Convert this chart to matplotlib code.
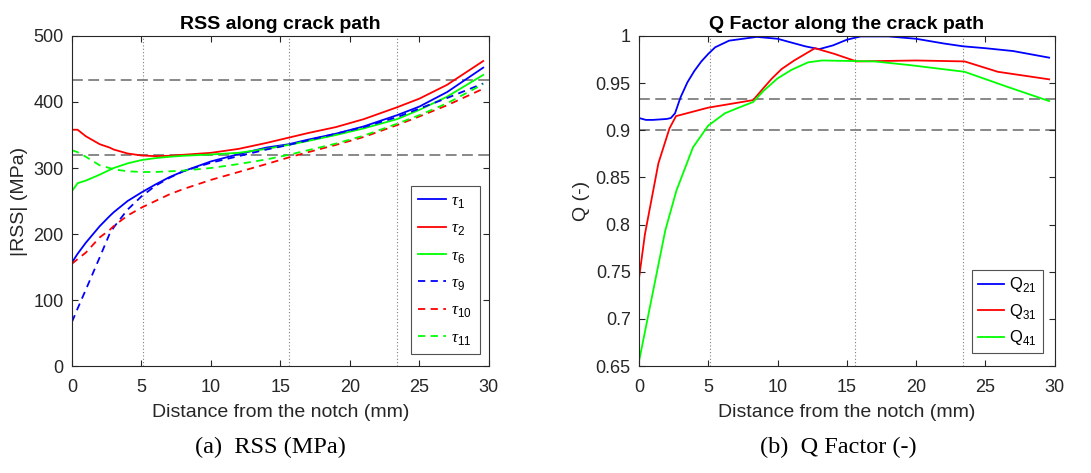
import matplotlib.pyplot as plt
from matplotlib.ticker import FuncFormatter

plt.rcParams['font.family'] = ['Liberation Sans', 'DejaVu Sans']
plt.rcParams['mathtext.fontset'] = 'custom'
plt.rcParams['mathtext.rm'] = 'Liberation Sans'

# RSS along crack path (MPa)
x_rss = [0, 0.4, 1, 2, 2.7, 3, 4, 5, 6, 7, 8, 10, 12, 14, 15.6, 17, 19, 21, 23.4, 25, 27, 29.6]
tau1 = [157, 170, 187, 212, 227, 233, 250, 263, 275, 286, 295, 310, 321, 331, 336, 343, 352, 363, 380, 393, 415, 452]
tau2 = [358, 358, 348, 336, 331, 328, 322, 319, 318, 318.5, 320, 323, 329, 338, 346, 353, 362, 374, 392, 405, 426, 462]
tau6 = [265, 277, 281, 290, 297, 300, 307, 312, 315, 317, 318.5, 320.5, 323, 329, 335, 341, 350, 360, 374, 388, 408, 441]
tau9 = [67, 87, 116, 165, 200, 210, 237, 257, 273, 285, 295, 308, 318, 328, 335, 342, 352, 362, 377, 390, 406, 428]
tau10 = [155, 162, 172, 195, 206, 212, 228, 240, 250, 260, 268, 282, 294, 306, 316, 324, 335, 347, 365, 378, 395, 420]
tau11 = [327, 324, 317, 304, 300, 298, 295, 294, 294, 295, 296, 300, 306, 313, 320, 327, 337, 349, 367, 380, 398, 427]
rss_labels = ['τ$_{1}$', 'τ$_{2}$', 'τ$_{6}$', 'τ$_{9}$', 'τ$_{10}$', 'τ$_{11}$']
rss_limits = [433, 320]

# Q factor along crack path
x_q21 = [0, 0.5, 1, 2, 2.3, 2.6, 3, 3.5, 4, 4.5, 5, 5.5, 6.5, 8.5, 10, 11, 12, 13, 14, 15, 16, 18, 20, 22, 23.4, 25, 27, 29.6]
q21 = [0.913, 0.911, 0.911, 0.912, 0.913, 0.918, 0.935, 0.951, 0.963, 0.973, 0.981, 0.988, 0.995, 0.999, 0.997,
       0.993, 0.989, 0.986, 0.990, 0.996, 0.9995, 0.9995, 0.997, 0.992, 0.989, 0.987, 0.984, 0.977]
x_q31 = [0, 0.43, 1.4, 2.2, 2.67, 5, 8.24, 9, 9.6, 10.3, 11.2, 12.7, 14.1, 15.7, 20, 23.5, 25.9, 29.6]
q31 = [0.743, 0.79, 0.865, 0.902, 0.915, 0.924, 0.932, 0.945, 0.955, 0.965, 0.974, 0.987, 0.981, 0.973, 0.974,
       0.973, 0.962, 0.954]
x_q41 = [0, 1.9, 2.7, 3.9, 5, 6.2, 7.2, 8.24, 9, 10, 11, 12.2, 13.2, 17, 19.6, 23.5, 26.6, 29.6]
q41 = [0.655, 0.794, 0.836, 0.882, 0.905, 0.918, 0.924, 0.930, 0.942, 0.955, 0.964, 0.972, 0.974, 0.973, 0.969,
       0.962, 0.946, 0.931]
q_labels = ['Q$_{21}$', 'Q$_{31}$', 'Q$_{41}$']
q_limits = [0.933, 0.9]

# crack regions (mm)
vlines = [5.1, 15.6, 23.4]

fig = plt.figure(figsize=(10.91, 4.73), dpi=100)
ax1 = fig.add_axes([0.066, 0.226, 0.382, 0.698])
ax2 = fig.add_axes([0.5857, 0.226, 0.381, 0.698])

blue, red, green = (0, 0, 1), (1, 0, 0), (0, 1, 0)
tc = '#262626'


def style(ax):
    ax.tick_params(direction='in', top=True, right=True, labelsize=13, colors=tc, length=4)
    ax.tick_params(axis='x', pad=9)
    ax.tick_params(axis='y', pad=6)
    for s in ax.spines.values():
        s.set_color('#262626')
        s.set_linewidth(0.8)
    ax.set_xlim(0, 30)
    ax.set_xticks(range(0, 31, 5))
    ax.set_xlabel('Distance from the notch (mm)', fontsize=14, color=tc, labelpad=6)
    for v in vlines:
        ax.axvline(v, color='#7f7f7f', ls=(0, (1, 2)), lw=0.8, zorder=1)


# left panel
style(ax1)
lw = 1.3
ax1.plot(x_rss, tau1, color=blue, lw=lw, label=rss_labels[0])
ax1.plot(x_rss, tau2, color=red, lw=lw, label=rss_labels[1])
ax1.plot(x_rss, tau6, color=green, lw=lw, label=rss_labels[2])
ax1.plot(x_rss, tau9, color=blue, lw=lw, ls=(0, (4, 3)), label=rss_labels[3])
ax1.plot(x_rss, tau10, color=red, lw=lw, ls=(0, (4, 3)), label=rss_labels[4])
ax1.plot(x_rss, tau11, color=green, lw=lw, ls=(0, (4, 3)), label=rss_labels[5])
for h in rss_limits:
    ax1.axhline(h, color='#7f7f7f', ls=(0, (6, 3)), lw=1.3, zorder=1)
ax1.set_ylim(0, 500)
ax1.set_yticks(range(0, 501, 100))
ax1.set_ylabel('|RSS| (MPa)', fontsize=14, color=tc)
ax1.set_title('RSS along crack path', fontsize=14, fontweight='bold', pad=5)
leg = ax1.legend(loc='lower right', bbox_to_anchor=(0.978, 0.036), borderaxespad=0, fontsize=12,
                 handlelength=1.7, labelspacing=0.62, fancybox=False, edgecolor='#262626',
                 borderpad=0.45, handletextpad=0.3)
leg.get_frame().set_linewidth(0.8)
for t in leg.get_texts():
    t.set_family(['Liberation Serif', 'DejaVu Serif'])
    t.set_style('italic')

# right panel
style(ax2)
ax2.plot(x_q21, q21, color=blue, lw=lw, label=q_labels[0])
ax2.plot(x_q31, q31, color=red, lw=lw, label=q_labels[1])
ax2.plot(x_q41, q41, color=green, lw=lw, label=q_labels[2])
for h in q_limits:
    ax2.axhline(h, color='#7f7f7f', ls=(0, (6, 3)), lw=1.3, zorder=1)
ax2.set_ylim(0.65, 1)
ax2.set_yticks([0.65, 0.7, 0.75, 0.8, 0.85, 0.9, 0.95, 1])
ax2.yaxis.set_major_formatter(FuncFormatter(lambda v, p: '%g' % round(v, 2)))
ax2.set_ylabel('Q (-)', fontsize=14, color=tc)
ax2.set_title('Q Factor along the crack path', fontsize=14, fontweight='bold', pad=5)
leg2 = ax2.legend(loc='lower right', bbox_to_anchor=(0.971, 0.039), borderaxespad=0, fontsize=12,
                  handlelength=1.6, labelspacing=0.45, fancybox=False, edgecolor='#262626',
                  borderpad=0.35, handletextpad=0.3)
leg2.get_frame().set_linewidth(0.8)

# captions
fig.text(0.248, 0.055, '(a)  RSS (MPa)', ha='center', va='center', fontsize=17.5, family='Liberation Serif')
fig.text(0.768, 0.055, '(b)  Q Factor (-)', ha='center', va='center', fontsize=17.5, family='Liberation Serif')

fig.savefig('out.png', dpi=100)
